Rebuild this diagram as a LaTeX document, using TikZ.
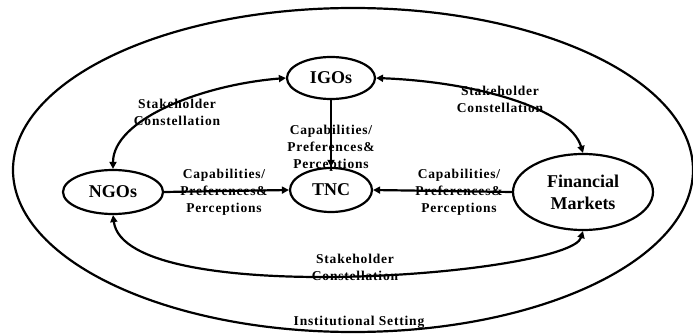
\documentclass[tikz,border=0pt]{standalone}
\usepackage{fontspec}
\setmainfont{Liberation Serif}
\usetikzlibrary{arrows.meta,shapes.geometric}
\begin{document}
\begin{tikzpicture}[x=1pt,y=-1pt,
  line width=2.2pt,
  actor/.style={draw, ellipse, line width=2.2pt, inner sep=0pt, align=center,
    font=\bfseries\fontsize{18}{22}\selectfont},
  lbl/.style={align=center, inner sep=0pt,
    font=\bfseries\fontsize{13.5}{17}\selectfont\addfontfeature{LetterSpace=6}},
  onearrow/.style={-{Triangle[length=7pt,width=7pt]}},
  twoarrow/.style={{Triangle[length=7pt,width=7pt]}-{Triangle[length=7pt,width=7pt]}}
]
\useasboundingbox (0,0) rectangle (693,334);
\draw (353,170) ellipse [x radius=340, y radius=162];

\node[actor, minimum width=88pt, minimum height=42pt] (igo) at (331,78) {IGOs};
\node[actor, minimum width=100pt, minimum height=44pt] (ngo) at (113,192) {NGOs};
\node[actor, minimum width=82pt, minimum height=44pt] (tnc) at (331,190) {TNC};
\node[actor, minimum width=140pt, minimum height=76pt] (fin) at (583,192) {Financial\\Markets};

\draw[onearrow] (igo.south) -- (tnc.north);
\draw[onearrow] (ngo.east) -- (tnc.west);
\draw[onearrow] (fin.west) -- (tnc.east);

\draw[twoarrow] (igo.west) .. controls (200,85) and (113,120) .. (ngo.north);
\draw[twoarrow] (igo.east) .. controls (480,82) and (570,110) .. (fin.north);
\draw[twoarrow] (ngo.south) .. controls (125,310) and (570,275) .. (fin.south);

\node[lbl] (l1) at (177,112) {Stakeholder\\Constellation};
\node[lbl] (l2) at (500,99) {Stakeholder\\Constellation};
\node[lbl] (l3) at (355,267) {Stakeholder\\Constellation};
\node[lbl] (c1) at (331,148) {Capabilities/\\Preferences\&\\Perceptions};
\node[lbl] (c2) at (224,192) {Capabilities/\\Preferences\&\\Perceptions};
\node[lbl] (c3) at (459,192) {Capabilities/\\Preferences\&\\Perceptions};
\node[lbl] (inst) at (359,322) {Institutional Setting};
\end{tikzpicture}
\end{document}
